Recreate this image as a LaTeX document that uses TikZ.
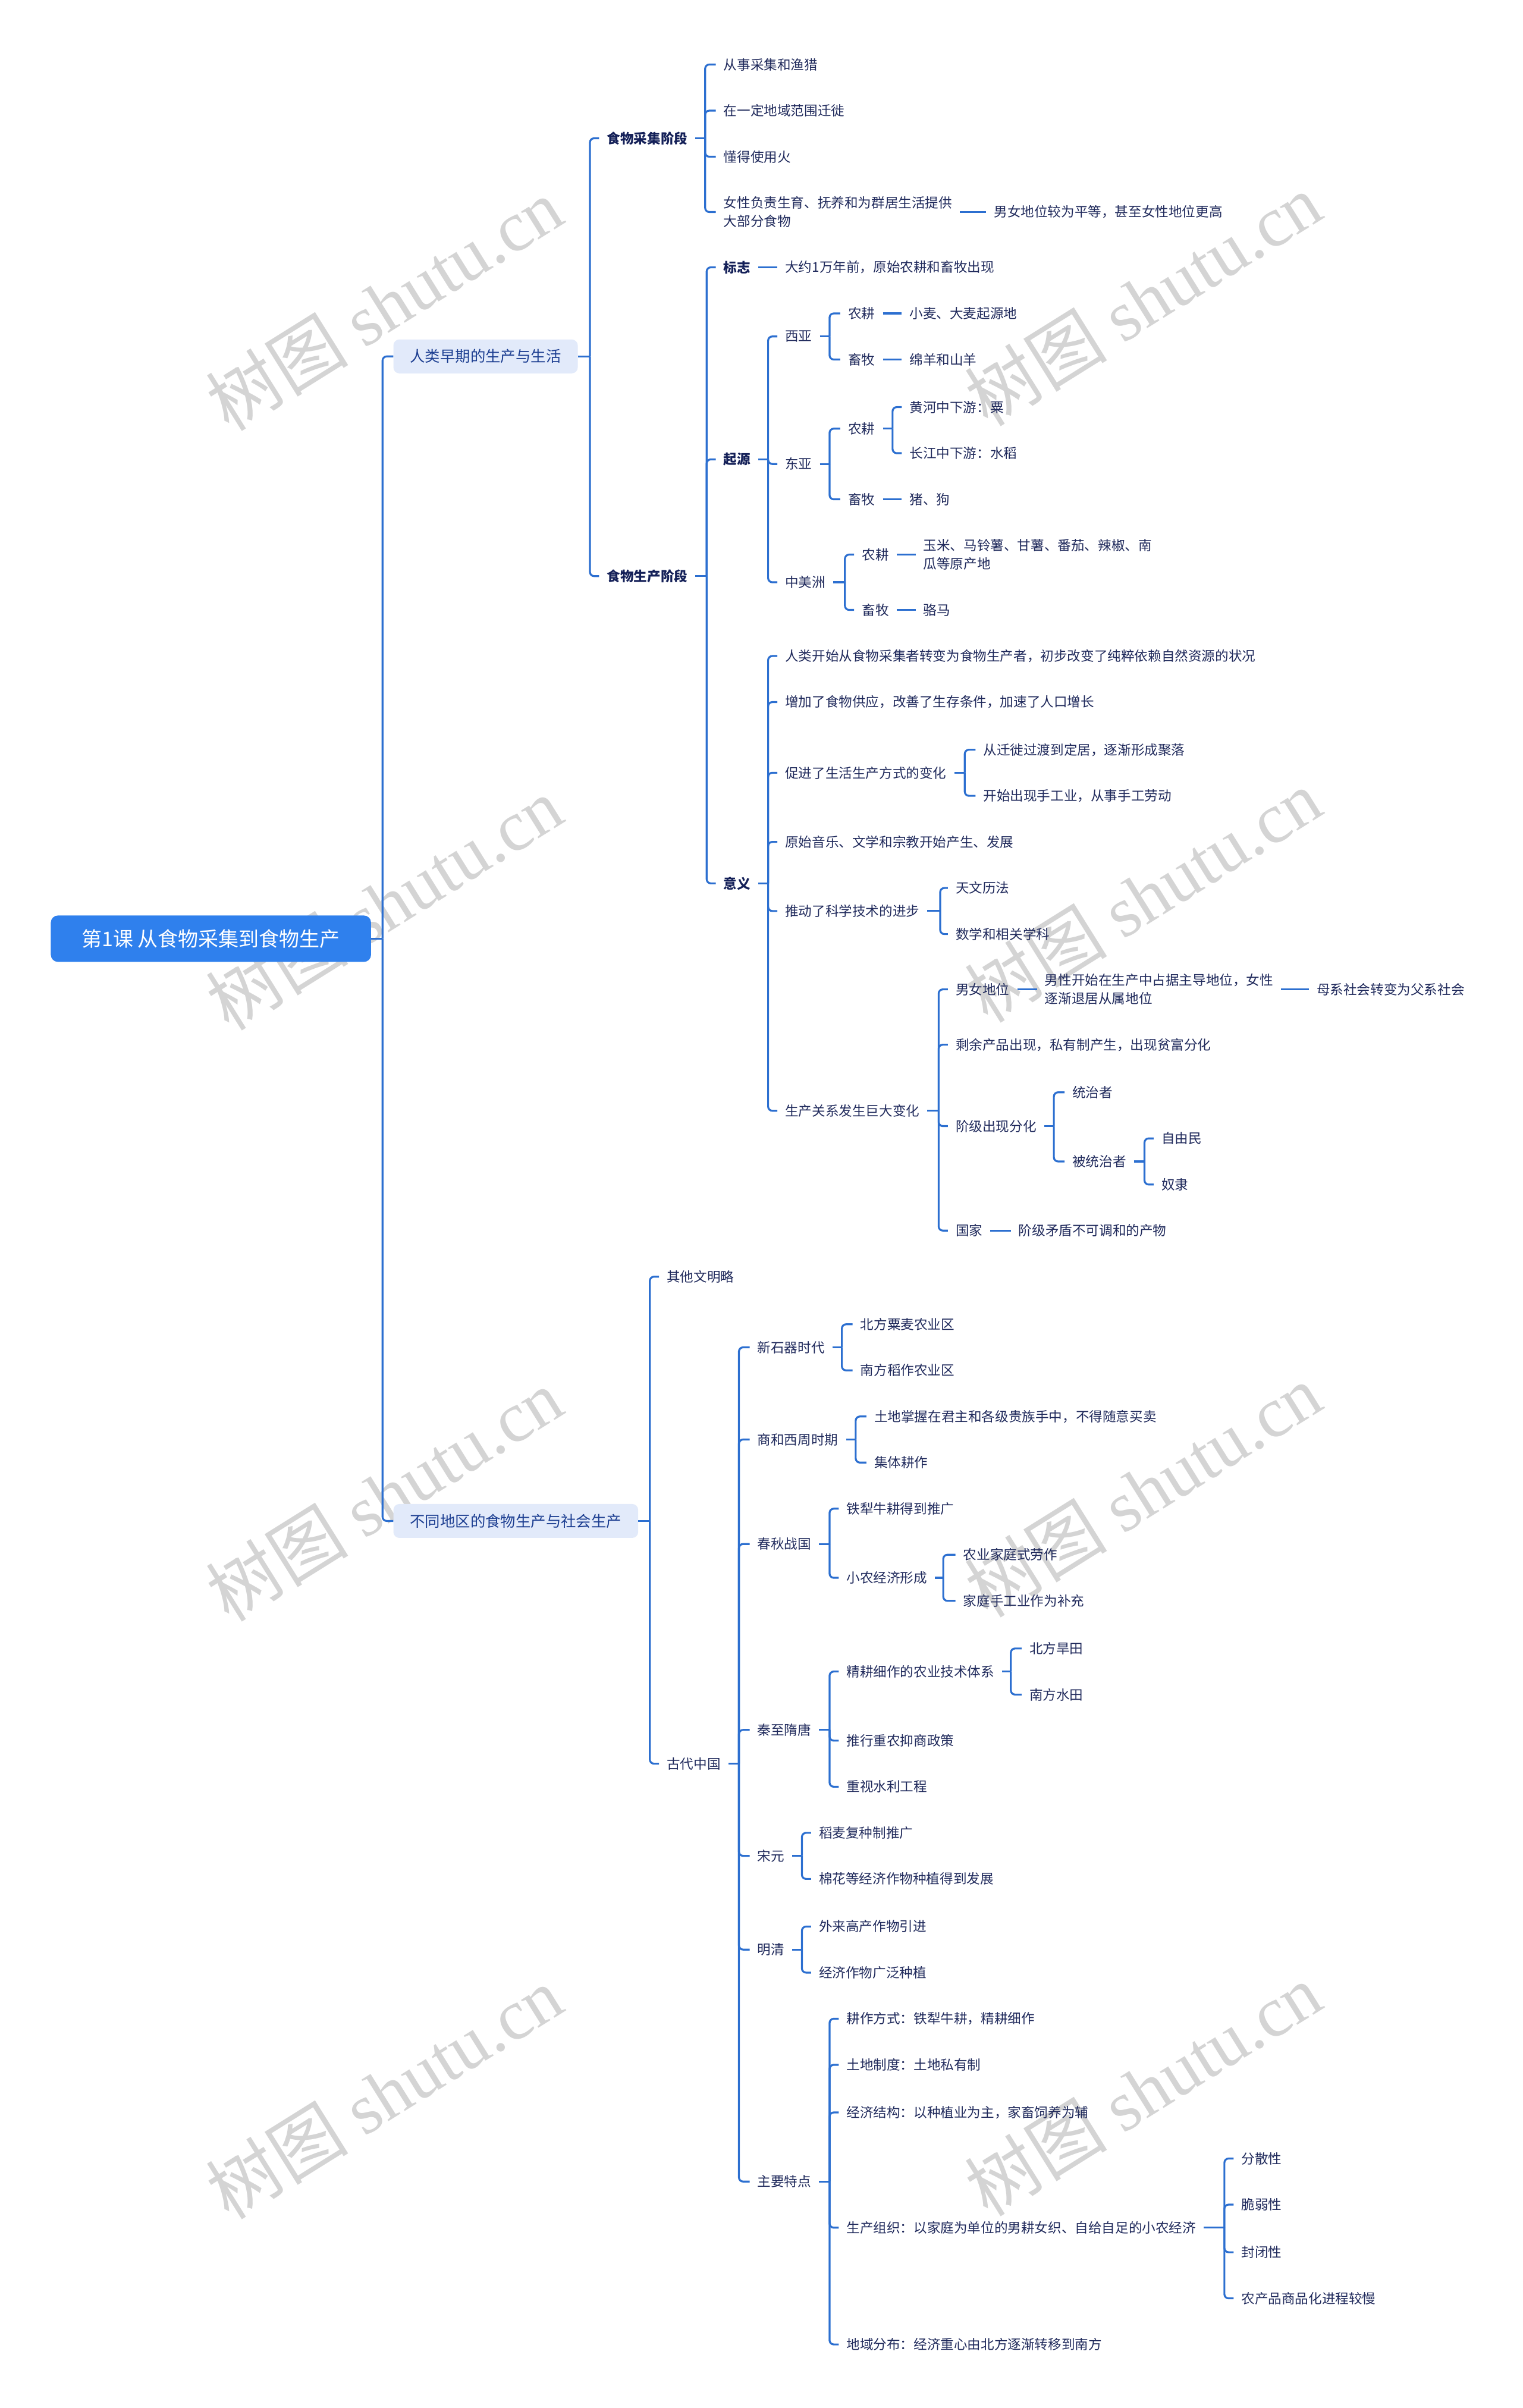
\documentclass[tikz,border=0pt]{standalone}
\usepackage{fontspec}
\setmainfont{Noto Sans CJK SC}
\newfontfamily\wmfont{Liberation Serif}
\definecolor{lc}{RGB}{44,111,208}
\definecolor{tc}{RGB}{32,42,92}
\definecolor{tbc}{RGB}{20,32,88}
\definecolor{l1f}{RGB}{226,234,250}
\definecolor{l1t}{RGB}{28,62,145}
\definecolor{rc}{RGB}{47,128,237}
\definecolor{wmc}{RGB}{212,212,212}
\newcommand\mmkids[3]{%
  \path (#2,0) coordinate (sp);
  \draw[ln] (#1.east) -- (#1.east -| sp);
  \foreach \c in {#3}{\draw[ln, rounded corners=7pt] (#1.east -| sp) |- (\c.west);}%
}
\newcommand\mmlink[2]{\draw[ln] (#1.east) -- (#2.west);}
\begin{document}
\begin{tikzpicture}[x=2.58325pt, y=-2.58325pt,
  ln/.style={draw=lc, line width=3.2pt},
  t/.style={anchor=west, xshift=-13pt, inner xsep=13pt, inner ysep=4pt, text=tc,
            font=\fontsize{22.6}{31}\selectfont, align=left},
  tb/.style={t, text=tbc, font=\fontsize{22.6}{31}\selectfont\bfseries},
  lone/.style={anchor=west, fill=l1f, rounded corners=10pt, inner xsep=28pt, inner ysep=0pt,
            minimum height=57pt, text=l1t, font=\fontsize{25.4}{30}\selectfont},
  rootbox/.style={anchor=west, fill=rc, rounded corners=12pt, inner xsep=52pt, inner ysep=0pt,
            minimum height=78pt, text=white, font=\fontsize{34}{40}\selectfont},
  wm/.style={rotate=32, text=wmc, font=\fontsize{120}{130}\selectfont, inner sep=0pt}
]
\fill[white] (0,0) rectangle (991,1567.4);
\useasboundingbox (0,0) rectangle (991,1567.4);

% watermarks
\node[wm] (w1) at (250,198) {树图 {\wmfont shutu.cn}};
\node[wm] (w2) at (744,195) {树图 {\wmfont shutu.cn}};
\node[wm] (w3) at (250,588) {树图 {\wmfont shutu.cn}};
\node[wm] (w4) at (744,583) {树图 {\wmfont shutu.cn}};
\node[wm] (w5) at (250,973) {树图 {\wmfont shutu.cn}};
\node[wm] (w6) at (744,970) {树图 {\wmfont shutu.cn}};
\node[wm] (w7) at (250,1362) {树图 {\wmfont shutu.cn}};
\node[wm] (w8) at (744,1360) {树图 {\wmfont shutu.cn}};

% root and level 1
\node[rootbox] (R) at (33,611) {第1课 从食物采集到食物生产};
\node[lone] (L1) at (256,232) {人类早期的生产与生活};
\node[lone] (L2) at (256,990) {不同地区的食物生产与社会生产};
\mmkids{R}{249}{L1,L2}

% 人类早期
\node[tb] (A1) at (395,90) {食物采集阶段};
\node[tb] (A2) at (395,375) {食物生产阶段};
\mmkids{L1}{384}{A1,A2}

\node[t] (a11) at (471,42) {从事采集和渔猎};
\node[t] (a12) at (471,72) {在一定地域范围迁徙};
\node[t] (a13) at (471,102) {懂得使用火};
\node[t] (a14) at (471,138) {女性负责生育、抚养和为群居生活提供\\大部分食物};
\mmkids{A1}{459}{a11,a12,a13,a14}
\node[t] (a141) at (647,138) {男女地位较为平等，甚至女性地位更高};
\mmlink{a14}{a141}

\node[tb] (b1) at (471,174) {标志};
\node[tb] (b2) at (471,299) {起源};
\node[tb] (b3) at (471,575) {意义};
\mmkids{A2}{460}{b1,b2,b3}
\node[t] (b11) at (511,174) {大约1万年前，原始农耕和畜牧出现};
\mmlink{b1}{b11}

% 起源
\node[t] (c1) at (511,219) {西亚};
\node[t] (c2) at (511,302) {东亚};
\node[t] (c3) at (511,379) {中美洲};
\mmkids{b2}{500}{c1,c2,c3}

\node[t] (c11) at (552,204) {农耕};
\node[t] (c12) at (552,234) {畜牧};
\mmkids{c1}{540}{c11,c12}
\node[t] (c111) at (592,204) {小麦、大麦起源地};
\node[t] (c121) at (592,234) {绵羊和山羊};
\mmlink{c11}{c111}
\mmlink{c12}{c121}

\node[t] (c21) at (552,279) {农耕};
\node[t] (c22) at (552,325) {畜牧};
\mmkids{c2}{540}{c21,c22}
\node[t] (c211) at (592,265) {黄河中下游：粟};
\node[t] (c212) at (592,295) {长江中下游：水稻};
\mmkids{c21}{581}{c211,c212}
\node[t] (c221) at (592,325) {猪、狗};
\mmlink{c22}{c221}

\node[t] (c31) at (561,361) {农耕};
\node[t] (c32) at (561,397) {畜牧};
\mmkids{c3}{550}{c31,c32}
\node[t] (c311) at (601,361) {玉米、马铃薯、甘薯、番茄、辣椒、南\\瓜等原产地};
\node[t] (c321) at (601,397) {骆马};
\mmlink{c31}{c311}
\mmlink{c32}{c321}

% 意义
\node[t] (d1) at (511,427) {人类开始从食物采集者转变为食物生产者，初步改变了纯粹依赖自然资源的状况};
\node[t] (d2) at (511,457) {增加了食物供应，改善了生存条件，加速了人口增长};
\node[t] (d3) at (511,503) {促进了生活生产方式的变化};
\node[t] (d4) at (511,548) {原始音乐、文学和宗教开始产生、发展};
\node[t] (d5) at (511,593) {推动了科学技术的进步};
\node[t] (d6) at (511,723) {生产关系发生巨大变化};
\mmkids{b3}{500}{d1,d2,d3,d4,d5,d6}

\node[t] (d31) at (640,488) {从迁徙过渡到定居，逐渐形成聚落};
\node[t] (d32) at (640,518) {开始出现手工业，从事手工劳动};
\mmkids{d3}{628}{d31,d32}

\node[t] (d51) at (622,578) {天文历法};
\node[t] (d52) at (622,608) {数学和相关学科};
\mmkids{d5}{612}{d51,d52}

\node[t] (e1) at (622,644) {男女地位};
\node[t] (e2) at (622,680) {剩余产品出现，私有制产生，出现贫富分化};
\node[t] (e3) at (622,733) {阶级出现分化};
\node[t] (e4) at (622,801) {国家};
\mmkids{d6}{611}{e1,e2,e3,e4}
\node[t] (e11) at (680,644) {男性开始在生产中占据主导地位，女性\\逐渐退居从属地位};
\mmlink{e1}{e11}
\node[t] (e111) at (857,644) {母系社会转变为父系社会};
\mmlink{e11}{e111}
\node[t] (e31) at (698,711) {统治者};
\node[t] (e32) at (698,756) {被统治者};
\mmkids{e3}{686}{e31,e32}
\node[t] (e321) at (756,741) {自由民};
\node[t] (e322) at (756,771) {奴隶};
\mmkids{e32}{745}{e321,e322}
\node[t] (e41) at (663,801) {阶级矛盾不可调和的产物};
\mmlink{e4}{e41}

% 不同地区
\node[t] (f1) at (434,831) {其他文明略};
\node[t] (f2) at (434,1148) {古代中国};
\mmkids{L2}{423}{f1,f2}

\node[t] (g1) at (493,877) {新石器时代};
\node[t] (g2) at (493,937) {商和西周时期};
\node[t] (g3) at (493,1005) {春秋战国};
\node[t] (g4) at (493,1126) {秦至隋唐};
\node[t] (g5) at (493,1208) {宋元};
\node[t] (g6) at (493,1269) {明清};
\node[t] (g7) at (493,1420) {主要特点};
\mmkids{f2}{481}{g1,g2,g3,g4,g5,g6,g7}

\node[t] (g11) at (560,862) {北方粟麦农业区};
\node[t] (g12) at (560,892) {南方稻作农业区};
\mmkids{g1}{548}{g11,g12}

\node[t] (g21) at (569,922) {土地掌握在君主和各级贵族手中，不得随意买卖};
\node[t] (g22) at (569,952) {集体耕作};
\mmkids{g2}{557}{g21,g22}

\node[t] (g31) at (551,982) {铁犁牛耕得到推广};
\node[t] (g32) at (551,1027) {小农经济形成};
\mmkids{g3}{540}{g31,g32}
\node[t] (g321) at (627,1012) {农业家庭式劳作};
\node[t] (g322) at (627,1042) {家庭手工业作为补充};
\mmkids{g32}{614}{g321,g322}

\node[t] (g41) at (551,1088) {精耕细作的农业技术体系};
\node[t] (g42) at (551,1133) {推行重农抑商政策};
\node[t] (g43) at (551,1163) {重视水利工程};
\mmkids{g4}{540}{g41,g42,g43}
\node[t] (g411) at (670,1073) {北方旱田};
\node[t] (g412) at (670,1103) {南方水田};
\mmkids{g41}{658}{g411,g412}

\node[t] (g51) at (533,1193) {稻麦复种制推广};
\node[t] (g52) at (533,1223) {棉花等经济作物种植得到发展};
\mmkids{g5}{522}{g51,g52}

\node[t] (g61) at (533,1254) {外来高产作物引进};
\node[t] (g62) at (533,1284) {经济作物广泛种植};
\mmkids{g6}{522}{g61,g62}

\node[t] (g71) at (551,1314) {耕作方式：铁犁牛耕，精耕细作};
\node[t] (g72) at (551,1344) {土地制度：土地私有制};
\node[t] (g73) at (551,1375) {经济结构：以种植业为主，家畜饲养为辅};
\node[t] (g74) at (551,1450) {生产组织：以家庭为单位的男耕女织、自给自足的小农经济};
\node[t] (g75) at (551,1526) {地域分布：经济重心由北方逐渐转移到南方};
\mmkids{g7}{540}{g71,g72,g73,g74,g75}
\node[t] (g741) at (808,1405) {分散性};
\node[t] (g742) at (808,1435) {脆弱性};
\node[t] (g743) at (808,1466) {封闭性};
\node[t] (g744) at (808,1496) {农产品商品化进程较慢};
\mmkids{g74}{797}{g741,g742,g743,g744}
\end{tikzpicture}
\end{document}
